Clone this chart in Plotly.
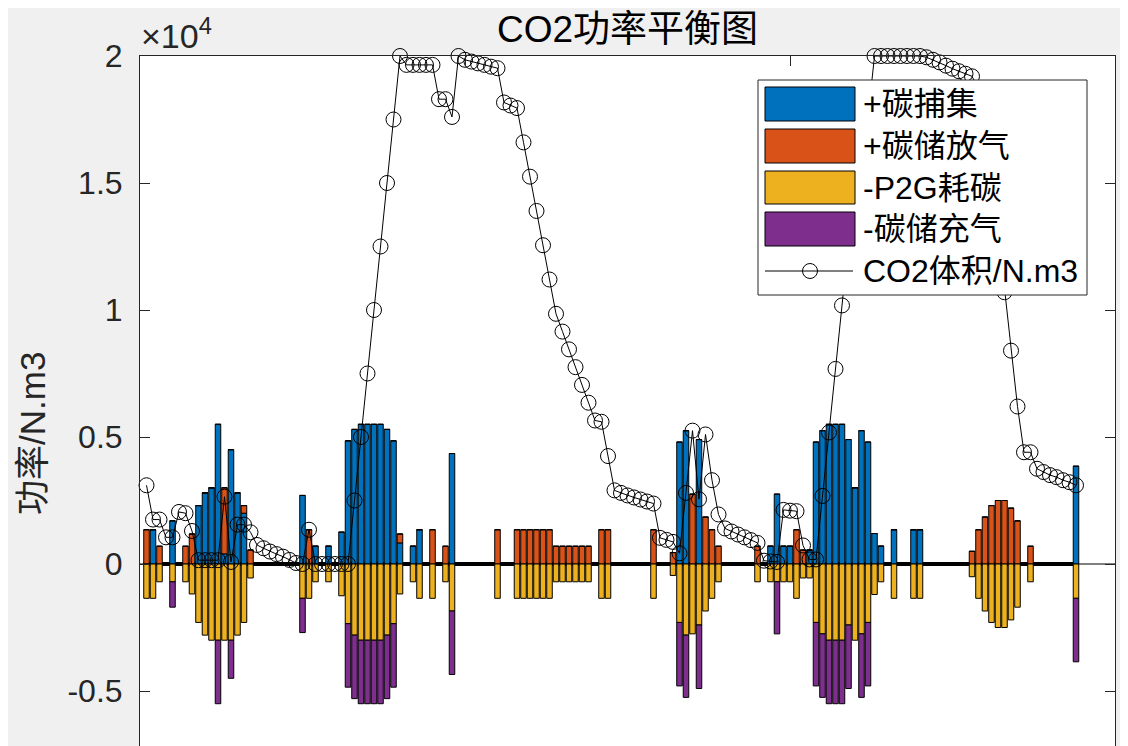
import plotly.graph_objects as go

# ---------------- data ----------------
hours = list(range(1, 145))

capture = [
    0, 1350, 0, 0, 1700, 0, 0, 0, 2300, 2800, 3000, 5500,
    400, 4500, 2800, 2000, 0, 0, 0, 0, 0, 0, 0, 0,
    2700, 0, 700, 0, 700, 0, 1250, 4850, 5300, 5500, 5500, 5500,
    5500, 5300, 4850, 830, 0, 700, 1350, 0, 0, 0, 0, 4350,
    0, 0, 0, 0, 0, 0, 0, 0, 0, 0, 0, 0,
    0, 0, 0, 0, 0, 0, 0, 0, 0, 0, 0, 0,
    0, 0, 0, 0, 0, 0, 0, 0, 0, 0, 4800, 5250,
    0, 4900, 0, 0, 0, 0, 0, 0, 0, 0, 0, 0,
    700, 2750, 700, 700, 0, 0, 550, 4800, 5250, 5500, 5500, 5500,
    4900, 3000, 5250, 4800, 1200, 700, 0, 1350, 0, 0, 1350, 1350,
    0, 0, 0, 0, 0, 0, 0, 0, 0, 0, 0, 0,
    0, 0, 0, 0, 0, 0, 0, 0, 0, 0, 0, 3850,
]

discharge = [
    1350, 0, 700, 0, 0, 0, 700, 1180, 0, 0, 0, 0,
    2600, 0, 0, 300, 550, 0, 0, 0, 0, 0, 0, 0,
    0, 1350, 0, 0, 0, 0, 0, 0, 0, 0, 0, 0,
    0, 0, 0, 350, 0, 0, 0, 0, 1350, 0, 700, 0,
    0, 0, 0, 0, 0, 0, 1350, 0, 0, 1350, 1350, 1350,
    1350, 1350, 1350, 700, 700, 700, 700, 700, 700, 0, 1350, 1350,
    0, 0, 0, 0, 0, 0, 1350, 0, 0, 450, 0, 0,
    2750, 0, 1850, 1350, 700, 0, 0, 0, 0, 0, 700, 0,
    0, 0, 0, 0, 1350, 550, 0, 0, 0, 0, 0, 0,
    0, 0, 0, 0, 0, 0, 0, 0, 0, 0, 0, 0,
    0, 0, 0, 0, 0, 0, 0, 500, 1350, 1850, 2300, 2500,
    2500, 2200, 1700, 0, 700, 0, 0, 0, 0, 0, 0, 0,
]

p2g = [
    -1350, -1350, -700, 0, -700, 0, -700, -1180, -2300, -2800, -3000, -3000,
    -3000, -3000, -2800, -2300, -550, 0, 0, 0, 0, 0, 0, 0,
    -1350, -1350, -700, 0, -700, 0, -1250, -2350, -2800, -3000, -3000, -3000,
    -3000, -2800, -2350, -1180, 0, -700, -1350, 0, -1350, 0, -700, -1850,
    0, 0, 0, 0, 0, 0, -1350, 0, 0, -1350, -1350, -1350,
    -1350, -1350, -1350, -700, -700, -700, -700, -700, -700, 0, -1350, -1350,
    0, 0, 0, 0, 0, 0, -1350, 0, 0, -450, -2300, -2800,
    -2750, -2400, -1850, -1350, -700, 0, 0, 0, 0, 0, -700, 0,
    -700, -700, -700, -700, -1350, -550, -550, -2300, -2750, -3000, -3000, -3000,
    -2400, -3000, -2750, -2300, -1200, -700, 0, -1350, 0, 0, -1350, -1350,
    0, 0, 0, 0, 0, 0, 0, -500, -1350, -1850, -2300, -2500,
    -2500, -2200, -1700, 0, -700, 0, 0, 0, 0, 0, 0, -1350,
]

charge = [
    0, 0, 0, 0, -1000, 0, 0, 0, 0, 0, 0, -2500,
    0, -1500, 0, 0, 0, 0, 0, 0, 0, 0, 0, 0,
    -1350, 0, 0, 0, 0, 0, 0, -2500, -2500, -2500, -2500, -2500,
    -2500, -2500, -2500, 0, 0, 0, 0, 0, 0, 0, 0, -2500,
    0, 0, 0, 0, 0, 0, 0, 0, 0, 0, 0, 0,
    0, 0, 0, 0, 0, 0, 0, 0, 0, 0, 0, 0,
    0, 0, 0, 0, 0, 0, 0, 0, 0, 0, -2500, -2450,
    0, -2500, 0, 0, 0, 0, 0, 0, 0, 0, 0, 0,
    0, -2050, 0, 0, 0, 0, 0, -2500, -2500, -2500, -2500, -2500,
    -2500, 0, -2500, -2500, 0, 0, 0, 0, 0, 0, 0, 0,
    0, 0, 0, 0, 0, 0, 0, 0, 0, 0, 0, 0,
    0, 0, 0, 0, 0, 0, 0, 0, 0, 0, 0, -2500,
]

volume = [
    3100, 1750, 1750, 1050, 1050, 2050, 2000, 1300, 150, 150, 150, 150,
    2650, 80, 1550, 1550, 1250, 750, 620, 490, 390, 290, 160, 40,
    0, 1350, 0, 0, 0, 0, 0, 0, 2500, 5000, 7500, 10000,
    12500, 15000, 17500, 20000, 19650, 19650, 19650, 19650, 19650, 18300, 18300, 17600,
    20000, 19850, 19780, 19710, 19650, 19580, 19520, 18170, 18050, 17950, 16600, 15250,
    13900, 12550, 11200, 9850, 9150, 8450, 7750, 7050, 6350, 5650, 5600, 4250,
    2900, 2800, 2700, 2620, 2540, 2460, 2380, 1030, 950, 870, 420, 2800,
    5250, 2550, 5100, 3300, 1950, 1400, 1280, 1160, 1050, 940, 830, 130,
    100, 80, 2130, 2100, 2080, 730, 180, 180, 2680, 5180, 7680, 10180,
    12680, 15180, 15180, 17680, 20000, 20000, 20000, 20000, 20000, 20000, 20000, 20000,
    19950, 19850, 19750, 19620, 19500, 19400, 19300, 19200, 18700, 17350, 15500, 13200,
    10700, 8400, 6200, 4400, 4400, 3750, 3620, 3500, 3420, 3300, 3220, 3100,
]

series_names = ["+碳捕集", "+碳储放气", "-P2G耗碳", "-碳储充气"]
line_name = "CO2体积/N.m3"
colors = ["#0072BD", "#D95319", "#EDB120", "#7E2F8E"]

y_tickvals = [-5000, 0, 5000, 10000, 15000, 20000]
y_ticktext = ["-0.5", "0", "0.5", "1", "1.5", "2"]

# ---------------- layout geometry ----------------
# page offset of the plot div (default body margin)
OFF = 8
W, H = 1128 - OFF, 746 - OFF
# plot area in page pixels
PL, PR, PT, PB = 140, 1115, 56, 746
L, R, T, B = PL - OFF, PR - OFF, PT - OFF, PB - OFF
FONT = "Liberation Sans, Arial, Noto Sans CJK SC"
AX = "#262626"


def px(x):
    """page x pixel -> paper x"""
    return (x - PL) / (PR - PL)


def py(y):
    """page y pixel -> paper y"""
    return (PB - y) / (PB - PT)


fig = go.Figure()

for vals, name, c in zip([capture, discharge, p2g, charge], series_names, colors):
    fig.add_trace(go.Bar(
        x=hours, y=vals, name=name, width=0.85,
        marker=dict(color=c, line=dict(color="black", width=1)),
        showlegend=False,
    ))

fig.add_trace(go.Scatter(
    x=hours, y=volume, name=line_name, mode="lines+markers",
    line=dict(color="black", width=1),
    marker=dict(symbol="circle-open", size=15, color="black", line=dict(width=1)),
    cliponaxis=False, showlegend=False,
))

shapes = []
# bar baseline (thin, full width)
shapes.append(dict(type="line", xref="paper", yref="y", x0=0, x1=1, y0=0, y1=0,
                   line=dict(color="black", width=1), layer="below"))
# outlines of zero-height bars
shapes.append(dict(type="line", xref="x", yref="y", x0=hours[0] - 0.43, x1=hours[-1] + 0.43,
                   y0=0, y1=0, line=dict(color="black", width=4), layer="below"))
shapes.append(dict(type="line", xref="x", yref="y", x0=hours[0] - 0.33, x1=hours[-1] + 0.43,
                   y0=0, y1=0, line=dict(color="white", width=1.6, dash="4px,2.5px"), layer="below"))

# manual legend
shapes.append(dict(type="rect", xref="paper", yref="paper",
                   x0=px(758), x1=px(1087), y0=py(295), y1=py(80),
                   fillcolor="white", line=dict(color=AX, width=1), layer="above"))
patch_rows = [(87, 121), (129, 163), (171, 204), (212, 246)]
for (t0, t1), c in zip(patch_rows, colors):
    shapes.append(dict(type="rect", xref="paper", yref="paper",
                       x0=px(765), x1=px(855), y0=py(t1), y1=py(t0),
                       fillcolor=c, line=dict(color="black", width=1), layer="above"))
shapes.append(dict(type="line", xref="paper", yref="paper",
                   x0=px(765), x1=px(853), y0=py(271), y1=py(271),
                   line=dict(color="black", width=1), layer="above"))
shapes.append(dict(type="circle", xref="paper", yref="paper",
                   x0=px(802.5), x1=px(817.5), y0=py(278.5), y1=py(263.5),
                   line=dict(color="black", width=1), layer="above"))

annotations = []
for (t0, t1), name in zip(patch_rows, series_names):
    annotations.append(dict(xref="paper", yref="paper", x=px(861), y=py((t0 + t1) / 2),
                            xanchor="left", yanchor="middle", text=name, showarrow=False,
                            font=dict(family=FONT, size=32, color="black")))
annotations.append(dict(xref="paper", yref="paper", x=px(861), y=py(271),
                        xanchor="left", yanchor="middle", text=line_name, showarrow=False,
                        font=dict(family=FONT, size=32, color="black")))
# title
annotations.append(dict(xref="paper", yref="paper", x=0.5, y=py(30),
                        xanchor="center", yanchor="middle", showarrow=False,
                        text="CO2功率平衡图",
                        font=dict(family=FONT, size=37, color="black")))
# exponent
annotations.append(dict(xref="paper", yref="paper", x=px(139), y=py(57),
                        xanchor="left", yanchor="bottom", showarrow=False,
                        text="×10<sup>4</sup>",
                        font=dict(family=FONT, size=34, color=AX)))
# y-axis title
annotations.append(dict(xref="paper", yref="paper", x=px(33), y=py(434),
                        xanchor="center", yanchor="middle", showarrow=False, textangle=-90,
                        text="功率/N.m3", font=dict(family=FONT, size=35, color=AX)))

fig.update_layout(
    width=W, height=H,
    barmode="relative",
    paper_bgcolor="#F0F0F0", plot_bgcolor="white",
    margin=dict(l=L, r=W - R, t=T, b=H - B, pad=0, autoexpand=False),
    shapes=shapes, annotations=annotations,
    showlegend=False,
    xaxis=dict(range=[0, 150], side="top", tickvals=[0, 50, 100, 150],
               ticks="inside", ticklen=10, tickcolor=AX, showticklabels=False,
               showline=True, linecolor=AX, linewidth=1, mirror=False,
               showgrid=False, zeroline=False),
    yaxis=dict(range=[-7165, 20000], tickvals=y_tickvals, ticktext=y_ticktext,
               ticks="inside", ticklen=10, tickcolor=AX,
               showline=True, linecolor=AX, linewidth=1, mirror="ticks",
               showgrid=False, zeroline=False, ticklabelstandoff=10,
               tickfont=dict(family=FONT, size=32, color=AX)),
)

fig.write_html("out.html")
